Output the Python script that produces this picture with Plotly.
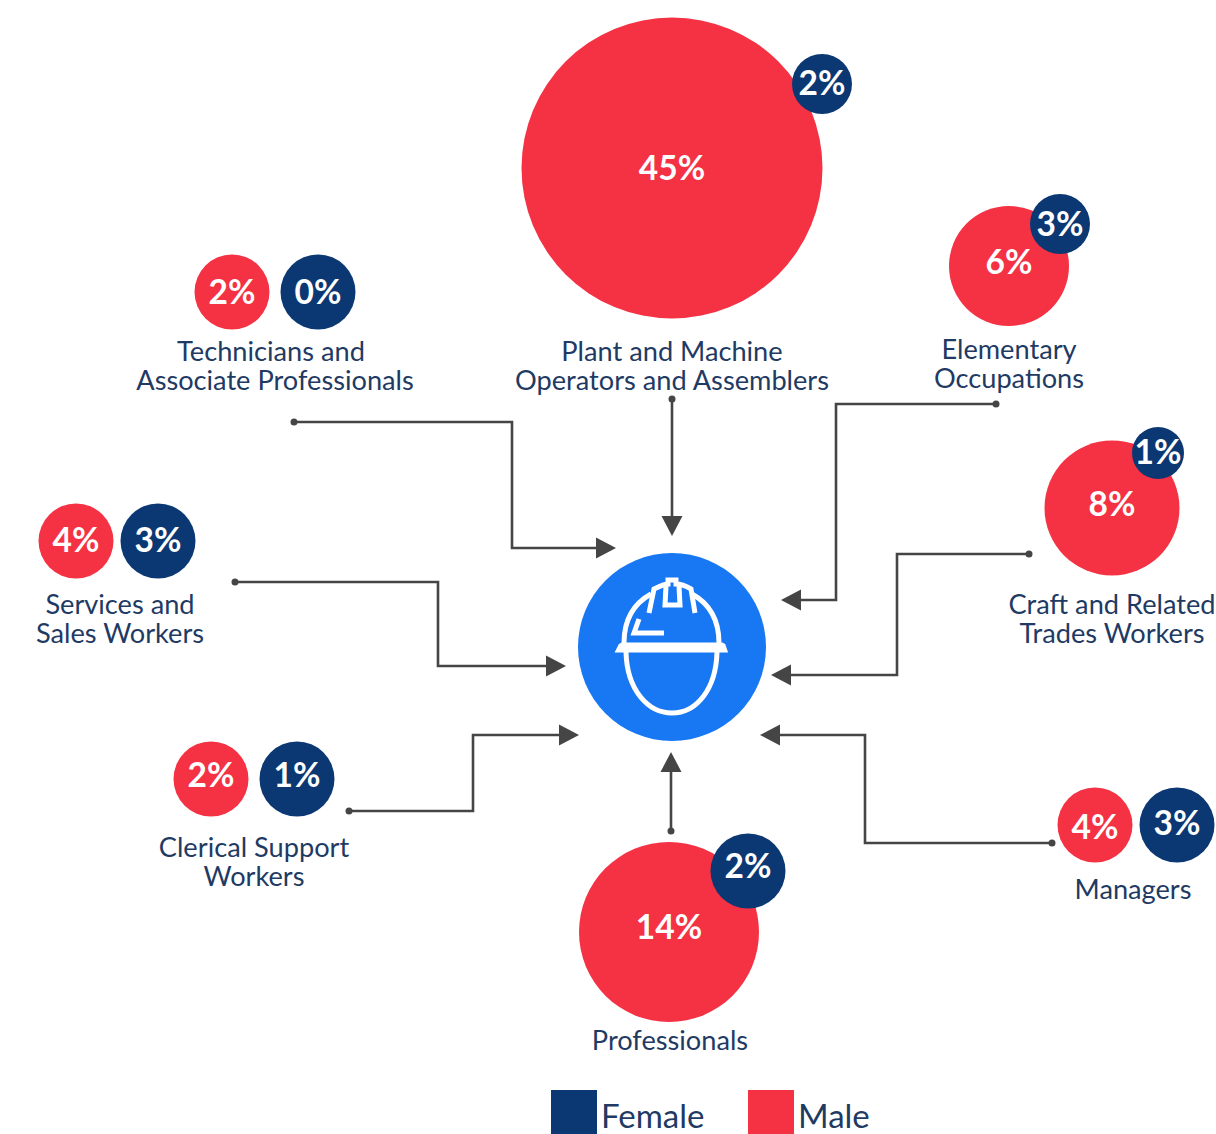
import plotly.graph_objects as go

# ---- data ----
categories = ["Plant and Machine<br>Operators and Assemblers", "Elementary<br>Occupations",
              "Craft and Related<br>Trades Workers", "Managers", "Professionals",
              "Clerical Support<br>Workers", "Services and<br>Sales Workers",
              "Technicians and<br>Associate Professionals"]
male_pct = [45, 6, 8, 4, 14, 2, 4, 2]
female_pct = [2, 3, 1, 3, 2, 1, 3, 0]

# ---- layout of the infographic (canvas pixels) ----
male_x = [672, 1009, 1112, 1095, 669, 211, 76, 232]
male_y = [168, 266, 508, 825, 932, 779, 541, 292]
male_d = [301, 120, 135, 75, 180, 75, 75, 75]
male_text_dy = [4, 0, 0, 6, -1, 0, 3, 4]
female_x = [822, 1060, 1158, 1177, 748, 297, 158, 318]
female_y = [84, 224, 453, 825, 871, 779, 541, 292]
female_d = [60, 60, 52, 75, 75, 75, 75, 75]
female_text_dy = [3, 4, 3, 2, -1, 0, 3, 4]
label_x = [672, 1009, 1112, 1133, 670, 254, 120, 275]
label_y = [367, 365, 620, 891, 1042, 863, 620, 367]
line_gap = 29
connectors = [
    ([672, 672], [399, 518]),
    ([996, 836, 836, 801], [404, 404, 600, 600]),
    ([1029, 897, 897, 791], [554, 554, 675, 675]),
    ([1052, 865, 865, 780], [843, 843, 735, 735]),
    ([671, 671], [831, 772]),
    ([349, 473, 473, 559], [811, 811, 735, 735]),
    ([235, 438, 438, 546], [582, 582, 666, 666]),
    ([294, 512, 512, 596], [422, 422, 548, 548]),
]
# arrow tips and pointing direction
tip_x = [672, 781, 771, 760, 671, 579, 566, 616]
tip_y = [536, 600, 675, 735, 752, 735, 666, 548]
tip_dir = ["down", "left", "left", "left", "up", "right", "right", "right"]
HEAD = 20
HALF = 10.5

RED, NAVY, BLUE, INK, GREY = "#f53144", "#0b3873", "#1877f2", "#1f3a63", "#454545"
FONT = "Lato"

fig = go.Figure()

# connectors
for cx, cy in connectors:
    fig.add_trace(go.Scatter(x=cx, y=cy, mode="lines", line=dict(color=GREY, width=2.6),
                             hoverinfo="skip", showlegend=False))
fig.add_trace(go.Scatter(x=[c[0][0] for c in connectors], y=[c[1][0] for c in connectors],
                         mode="markers", marker=dict(color=GREY, size=7, opacity=1),
                         hoverinfo="skip", showlegend=False))
DIRS = {"down": (0, 1), "up": (0, -1), "left": (-1, 0), "right": (1, 0)}
for tx, ty, d in zip(tip_x, tip_y, tip_dir):
    ux, uy = DIRS[d]
    bx, by = tx - ux * HEAD, ty - uy * HEAD
    fig.add_trace(go.Scatter(x=[tx, bx - uy * HALF, bx + uy * HALF, tx],
                             y=[ty, by - ux * HALF, by + ux * HALF, ty],
                             mode="lines", fill="toself", fillcolor=GREY,
                             line=dict(color=GREY, width=0), hoverinfo="skip", showlegend=False))

# hub
fig.add_trace(go.Scatter(x=[672], y=[647], mode="markers",
                         marker=dict(color=BLUE, size=188, opacity=1),
                         hoverinfo="skip", showlegend=False))

# bubbles
def bubbles(xs, ys, ds, dys, vals, colour, name):
    fig.add_trace(go.Scatter(x=xs, y=ys, mode="markers",
                             marker=dict(color=colour, size=ds, opacity=1, line=dict(width=0)),
                             name=name, customdata=categories, showlegend=False))
    fig.add_trace(go.Scatter(x=xs, y=[y + dy for y, dy in zip(ys, dys)], mode="text",
                             text=[f"<b>{v}%</b>" for v in vals], textposition="middle center",
                             textfont=dict(family=FONT, size=33.5, color="white"),
                             hoverinfo="skip", showlegend=False))

bubbles(male_x, male_y, male_d, male_text_dy, male_pct, RED, "Male")
bubbles(female_x, female_y, female_d, female_text_dy, female_pct, NAVY, "Female")

# category labels, one text per line so the line gap can follow the reference
line_shift = {"Technicians and": -4}
lx, ly, lt = [], [], []
for cat, x, y in zip(categories, label_x, label_y):
    parts = cat.split("<br>")
    for i, part in enumerate(parts):
        lx.append(x + line_shift.get(part, 0))
        ly.append(y + (i - (len(parts) - 1) / 2) * line_gap + 1.5)
        lt.append(part)
fig.add_trace(go.Scatter(x=lx, y=ly, mode="text", text=lt, textposition="middle center",
                         textfont=dict(family=FONT, size=27.2, color=INK),
                         hoverinfo="skip", showlegend=False))

# key
key_names = ["Female", "Male"]
key_colours = [NAVY, RED]
key_x = [574, 771]
key_label_x = [601, 798]
fig.add_trace(go.Scatter(x=key_x, y=[1113, 1113], mode="markers",
                         marker=dict(color=key_colours, size=46, symbol="square", opacity=1,
                                     line=dict(width=0)),
                         hoverinfo="skip", showlegend=False))
fig.add_trace(go.Scatter(x=key_label_x, y=[1120, 1120], mode="text", text=key_names,
                         textposition="middle right",
                         textfont=dict(family=FONT, size=33, color=INK),
                         hoverinfo="skip", showlegend=False))

# helmet icon
W = dict(color="white", width=5)
helmet = [
    "M 624 643 C 624 620 633 604 651 594",
    "M 719 643 C 719 620 710 604 692 594",
    "M 649 613 L 654 589 C 660 586 666 584 668 584 L 668 580 L 676 580 L 676 584 C 680 584 686 586 691 589 L 695 613",
    "M 666 586 L 665 605 L 680 605 L 679 586",
    "M 639 619 L 634 633 L 664 633",
    "M 626 652 C 627 690 648 713 672 713 C 696 713 716 690 717 652",
]
for p in helmet:
    fig.add_shape(type="path", path=p, line=W, fillcolor="rgba(0,0,0,0)", layer="above")
fig.add_shape(type="path", path="M 620 645 L 622 644 L 722 644 L 724 645 L 726 651 L 617 651 Z",
              line=dict(color="white", width=3), fillcolor="white", layer="above")

fig.update_layout(
    width=1216, height=1134, margin=dict(l=0, r=0, t=0, b=0),
    paper_bgcolor="white", plot_bgcolor="white", showlegend=False,
    xaxis=dict(range=[0, 1216], visible=False, fixedrange=True),
    yaxis=dict(range=[1134, 0], visible=False, fixedrange=True),
)
fig.write_html("out.html", config=dict(displayModeBar=False),
               post_script="document.body.style.margin='0';")
